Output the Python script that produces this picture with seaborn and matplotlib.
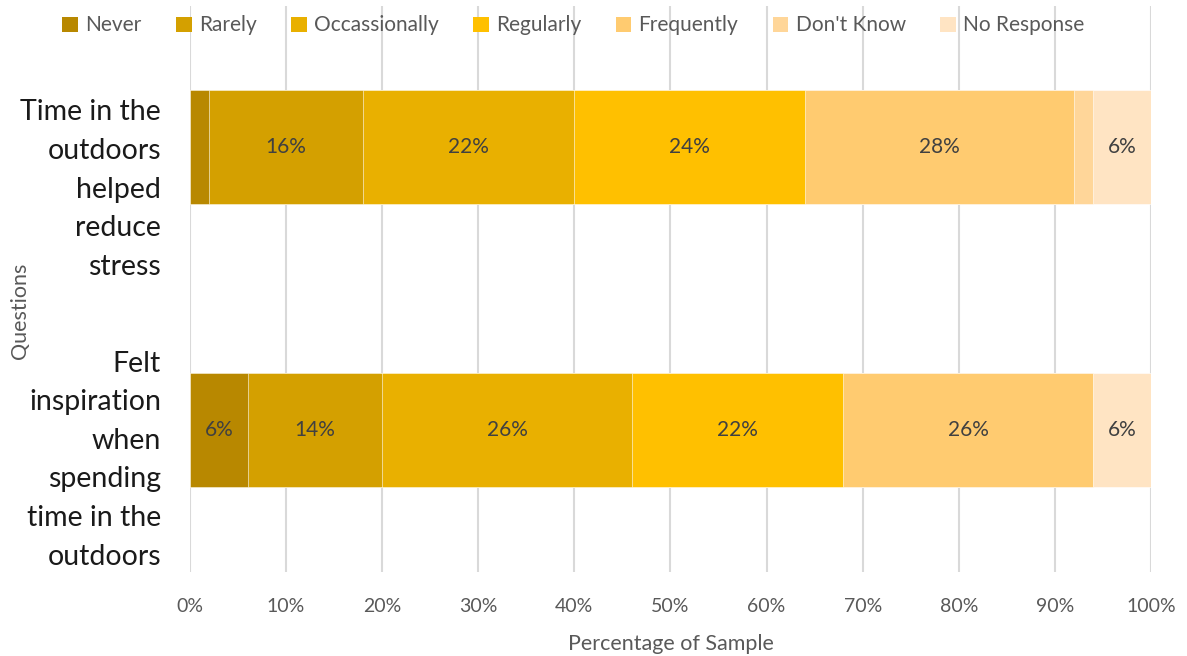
import numpy as np
import pandas as pd
import matplotlib
matplotlib.use("Agg")
import matplotlib.pyplot as plt
import matplotlib.transforms as mtransforms
from matplotlib.patches import Patch
import seaborn as sns

questions = ["Time in the\noutdoors\nhelped\nreduce\nstress",
             "Felt\ninspiration\nwhen\nspending\ntime in the\noutdoors"]
responses = ["Never", "Rarely", "Occassionally", "Regularly", "Frequently", "Don't Know", "No Response"]
q1_values = [2, 16, 22, 24, 28, 2, 6]
q2_values = [6, 14, 26, 22, 26, 0, 6]
colors = ["#B88800", "#D4A000", "#E9B000", "#FFC000", "#FFCB70", "#FFD699", "#FFE4C3"]
x_ticks = [0, 10, 20, 30, 40, 50, 60, 70, 80, 90, 100]

sns.set_theme(style="white")
plt.rcParams["font.family"] = ["Lato", "DejaVu Sans"]

df = pd.DataFrame({"question": np.repeat(questions, len(responses)),
                   "response": responses * 2,
                   "value": q1_values + q2_values})
df["cum"] = df.groupby("question", sort=False)["value"].cumsum()
df["start"] = df["cum"] - df["value"]

fig = plt.figure(figsize=(11.87, 6.56), dpi=100)
ax = fig.add_axes([0.160, 0.1288, 0.8097, 0.8628])

# stacked bars: draw cumulative totals from the last category backward
for i in range(len(responses) - 1, -1, -1):
    sub = df[df["response"] == responses[i]]
    sns.barplot(data=sub, x="cum", y="question", order=questions, orient="h",
                color=colors[i], width=0.40, ax=ax, saturation=1,
                edgecolor="white", linewidth=0.4)

# value labels
for _, r in df.iterrows():
    if r["value"] >= 5:
        yi = questions.index(r["question"])
        ax.text(r["start"] + r["value"] / 2, yi, f"{int(r['value'])}%",
                ha="center", va="center", fontsize=15, color="#404040")

ax.set_xlim(0, 100)
ax.set_ylim(1.5, -0.5)
ax.set_xticks(x_ticks)
ax.set_xticklabels([f"{t}%" for t in x_ticks], fontsize=14, color="#595959")
ax.tick_params(axis="x", length=0, pad=19)
ax.tick_params(axis="y", length=0, pad=28)
ax.xaxis.grid(True, color="#D9D9D9", linewidth=1.5)
ax.set_axisbelow(True)
for s in ax.spines.values():
    s.set_visible(False)

ax.set_yticks([0, 1])
ax.set_yticklabels(questions, fontsize=20.5, color="#1A1A1A", ha="right",
                   va="center", linespacing=1.6, multialignment="right")
offsets = [-0.425, -0.30]
for lab, off in zip(ax.get_yticklabels(), offsets):
    lab.set_transform(lab.get_transform() +
                      mtransforms.ScaledTranslation(0.10, off, fig.dpi_scale_trans))

ax.set_xlabel("Percentage of Sample", fontsize=15.5, color="#595959", labelpad=14)
ax.set_ylabel("Questions", fontsize=15.5, color="#595959")
ax.yaxis.set_label_coords(-0.166, 0.46)

handles = [Patch(facecolor=c, edgecolor="none") for c in colors]
fig.legend(handles, responses, loc="upper center", bbox_to_anchor=(0.483, 1.005),
           ncol=7, frameon=False, fontsize=15, handlelength=0.75, handleheight=0.75,
           handletextpad=0.35, columnspacing=1.65, labelcolor="#595959")

fig.savefig("out.png", dpi=100)
